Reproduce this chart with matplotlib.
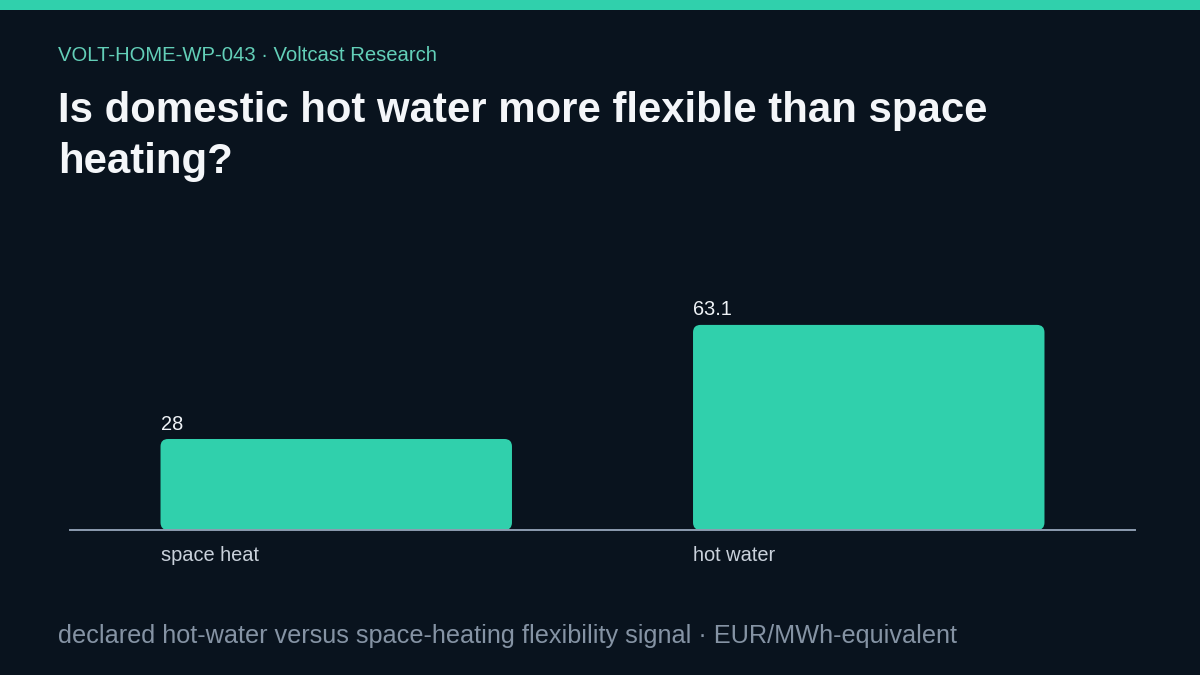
import matplotlib
matplotlib.use("Agg")
import matplotlib.pyplot as plt
from matplotlib.patches import FancyBboxPatch, Rectangle

plt.rcParams['font.family'] = ['Liberation Sans', 'DejaVu Sans']

# data
categories = ["space heat", "hot water"]
values = [28, 63.1]

BG = "#09131e"
ACCENT = "#30d0ac"
W, H = 1200, 675

fig = plt.figure(figsize=(12, 6.75), dpi=100, facecolor=BG)

def fx(px):
    return px / W

def fy(py):
    return 1 - py / H

# top accent strip
fig.patches.append(Rectangle((0, fy(10)), 1, 10 / H, transform=fig.transFigure,
                             facecolor=ACCENT, edgecolor="none"))

fig.text(fx(58), fy(61), "VOLT-HOME-WP-043 · Voltcast Research", color="#63cfb8",
         fontsize=14.6, va="baseline", ha="left")
fig.text(fx(58), fy(122), "Is domestic hot water more flexible than space",
         color="#f4f6f9", fontsize=30.2, fontweight="bold", va="baseline", ha="left")
fig.text(fx(58), fy(173), "heating?",
         color="#f4f6f9", fontsize=30.2, fontweight="bold", va="baseline", ha="left")
fig.text(fx(58), fy(643),
         "declared hot-water versus space-heating flexibility signal · EUR/MWh-equivalent",
         color="#8593a4", fontsize=18.2, va="baseline", ha="left")

ax = fig.add_axes([fx(70), fy(530), fx(1135) - fx(70), (530 - 230) / H])
ax.set_facecolor(BG)
ax.set_xlim(-0.5, len(categories) - 0.5)
ax.set_ylim(0, 92.3)
for s in ["top", "right", "left"]:
    ax.spines[s].set_visible(False)
ax.spines["bottom"].set_color("#8d9cb0")
ax.spines["bottom"].set_linewidth(1.4)
ax.set_xticks([])
ax.set_yticks([])

bar_w = 0.66
fig.canvas.draw()
# px per data unit to keep the corners round
x_ppu = ax.transData.transform((1, 0))[0] - ax.transData.transform((0, 0))[0]
y_ppu = ax.transData.transform((0, 1))[1] - ax.transData.transform((0, 0))[1]
r_px = 7.5

for i, (cat, v) in enumerate(zip(categories, values)):
    x0 = i - bar_w / 2
    patch = FancyBboxPatch((x0, 0), bar_w, v,
                           boxstyle=f"round,pad=0,rounding_size={r_px / x_ppu}",
                           mutation_aspect=x_ppu / y_ppu,
                           facecolor=ACCENT, edgecolor="none", zorder=2)
    ax.add_patch(patch)
    ax.annotate(f"{v:g}", (x0, v), xytext=(0, 6.8), textcoords="offset points",
                ha="left", va="baseline", color="#eef2f6", fontsize=14.4)
    ax.annotate(cat, (x0, 0), xytext=(0, -22.3), textcoords="offset points",
                ha="left", va="baseline", color="#c9d1db", fontsize=14.4,
                annotation_clip=False)

fig.savefig("out.png", dpi=100, facecolor=BG)
